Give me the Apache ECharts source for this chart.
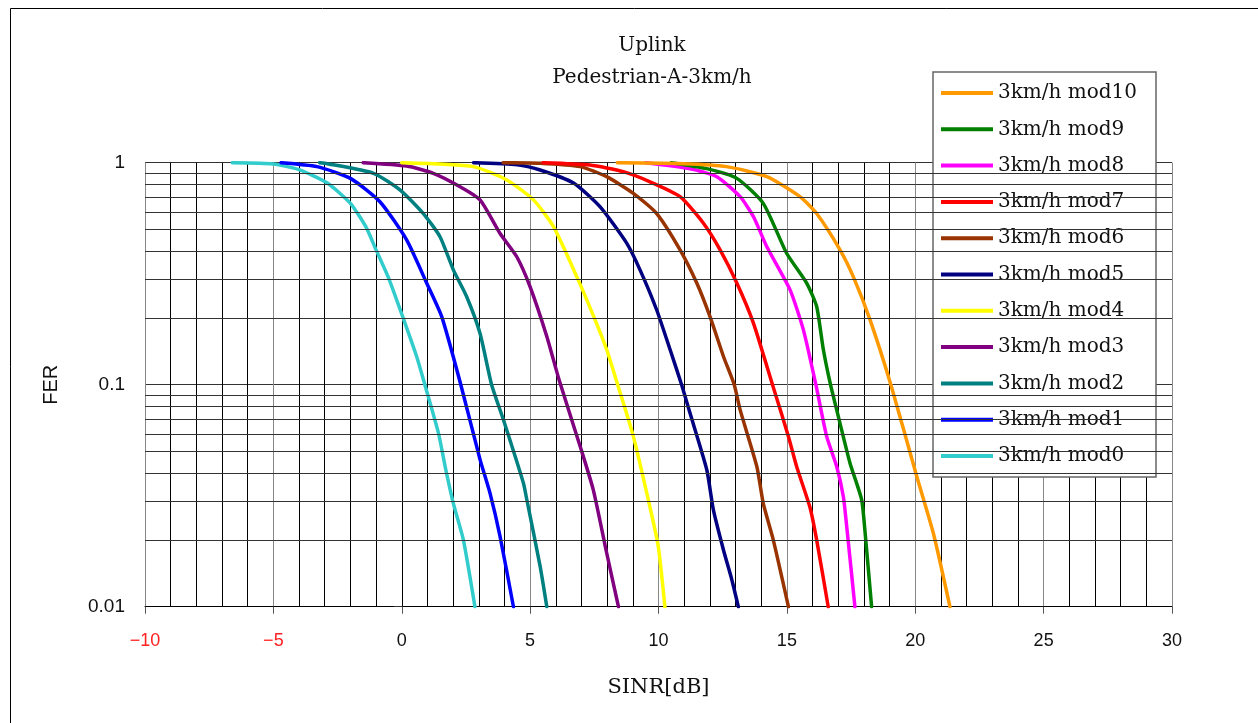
<!DOCTYPE html>
<html>
<head>
<meta charset="utf-8">
<script src="https://cdn.jsdelivr.net/npm/echarts@6/dist/echarts.min.js"></script>
<style>
  html, body { margin: 0; padding: 0; background: #fff; }
  #chart { width: 1258px; height: 723px; }
</style>
</head>
<body>
<div id="chart"></div>
<script>
// FER versus SINR curves, [SINR dB, FER]
const mod0 = [[-6.6,1],[-5.0,0.987],[-4.0,0.93],[-2.9,0.81],[-2.0,0.656],[-1.4,0.515],[-1.0,0.405],[-0.5,0.30],[0.06,0.199],[0.58,0.134],[0.9,0.1],[1.43,0.0605],[1.69,0.0428],[2.01,0.0292],[2.40,0.020],[2.85,0.01]];
const mod1 = [[-4.7,1],[-3.3,0.96],[-2.0,0.85],[-0.85,0.667],[0.19,0.449],[0.97,0.287],[1.56,0.202],[2.3,0.1],[3.05,0.046],[3.44,0.0324],[3.83,0.0207],[4.35,0.01]];
const mod2 = [[-3.2,1],[-2.9,0.99],[-1.1,0.896],[-0.06,0.753],[0.84,0.59],[1.49,0.464],[2.01,0.329],[2.53,0.249],[3.05,0.17],[3.5,0.1],[3.96,0.0695],[4.74,0.036],[4.87,0.0304],[5.39,0.0152],[5.65,0.01]];
const mod3 = [[-1.5,1],[0.19,0.966],[1.23,0.896],[2.27,0.78],[3.05,0.68],[3.83,0.48],[4.48,0.377],[5.0,0.276],[5.65,0.165],[6.13,0.105],[6.95,0.0527],[7.46,0.0336],[7.98,0.0175],[8.44,0.01]];
const mod4 = [[0.0,1],[2.79,0.96],[4.09,0.836],[5.13,0.68],[5.91,0.515],[6.82,0.306],[7.53,0.196],[7.98,0.144],[8.41,0.1],[9.02,0.0585],[9.67,0.028],[9.99,0.0187],[10.25,0.01]];
const mod5 = [[2.8,1],[4.5,0.98],[5.39,0.927],[6.69,0.81],[7.72,0.634],[8.76,0.434],[9.28,0.329],[9.93,0.217],[10.45,0.144],[10.9,0.1],[11.23,0.0743],[11.88,0.0414],[12.14,0.0272],[12.53,0.018],[12.85,0.0133],[13.11,0.01]];
const mod6 = [[3.95,1],[5.39,0.995],[6.95,0.96],[7.98,0.865],[9.02,0.728],[9.93,0.59],[10.84,0.405],[11.49,0.287],[12.01,0.202],[12.53,0.134],[12.95,0.1],[13.18,0.077],[13.83,0.0428],[14.08,0.0292],[14.47,0.020],[15.06,0.01]];
const mod7 = [[5.5,1],[7.33,0.976],[8.63,0.911],[9.67,0.82],[10.84,0.703],[11.75,0.534],[12.4,0.405],[13.05,0.287],[13.7,0.189],[14.44,0.1],[15.06,0.0585],[15.38,0.0428],[15.9,0.028],[16.16,0.020],[16.61,0.01]];
const mod8 = [[9.5,1],[11.23,0.94],[12.27,0.865],[13.18,0.703],[13.7,0.571],[14.22,0.418],[15.12,0.268],[15.64,0.177],[16.13,0.1],[16.55,0.0585],[16.94,0.0428],[17.2,0.0313],[17.33,0.023],[17.65,0.01]];
const mod9 = [[10.5,1],[11.88,0.94],[13.05,0.85],[14.08,0.656],[14.99,0.391],[15.77,0.287],[16.16,0.225],[16.42,0.144],[16.7,0.1],[17.07,0.067],[17.46,0.0443],[17.91,0.0304],[18.04,0.022],[18.3,0.01]];
const mod10 = [[8.4,1],[11.0,0.99],[12.65,0.96],[14.22,0.865],[15.51,0.703],[16.16,0.59],[17.07,0.405],[17.59,0.306],[18.24,0.196],[19.05,0.1],[20.06,0.0386],[20.71,0.0213],[21.35,0.01]];

const seriesNames = ['3km/h mod0','3km/h mod1','3km/h mod2','3km/h mod3','3km/h mod4','3km/h mod5','3km/h mod6','3km/h mod7','3km/h mod8','3km/h mod9','3km/h mod10'];
const seriesData = [mod0, mod1, mod2, mod3, mod4, mod5, mod6, mod7, mod8, mod9, mod10];
const seriesColors = ['#33CCCC','#0000FF','#008080','#800080','#FFFF00','#000080','#993300','#FF0000','#FF00FF','#008000','#FF9900'];

// minor horizontal grid values of the log FER axis
const ferMinor = [0.02,0.03,0.04,0.05,0.06,0.07,0.08,0.09,0.2,0.3,0.4,0.5,0.6,0.7,0.8,0.9];
const ferLabels = {'-2': '0.01', '-1': '0.1', '0': '1'};

const chart = echarts.init(document.getElementById('chart'), null, { renderer: 'canvas' });

const lines = seriesNames.map((name, i) => ({
  name: name,
  type: 'line',
  data: seriesData[i],
  showSymbol: false,
  smooth: 0.2,
  z: 3,
  lineStyle: { color: seriesColors[i], width: 3.5, cap: 'round', join: 'round' },
  itemStyle: { color: seriesColors[i] },
  emphasis: { disabled: true }
}));

lines.unshift({
  name: 'grid',
  type: 'line',
  data: [],
  z: 1,
  silent: true,
  markLine: {
    silent: true,
    symbol: 'none',
    animation: false,
    label: { show: false },
    lineStyle: { color: '#333', width: 1, type: 'solid' },
    emphasis: { disabled: true },
    data: ferMinor.map(v => ({ yAxis: v }))
  }
});

chart.setOption({
  animation: false,
  backgroundColor: '#fff',
  title: {
    text: 'Uplink\nPedestrian-A-3km/h',
    left: 647,
    top: 25,
    textAlign: 'center',
    textStyle: { fontFamily: 'DejaVu Serif', fontWeight: 'normal', fontSize: 20, lineHeight: 32, color: '#111' }
  },
  graphic: [{
    type: 'rect',
    shape: { x: 10.5, y: 8.5, width: 1270, height: 740 },
    style: { fill: null, stroke: '#000', lineWidth: 1 },
    silent: true
  }],
  legend: {
    orient: 'vertical',
    left: 933,
    top: 72,
    data: seriesNames.slice().reverse(),
    icon: 'rect',
    itemWidth: 52,
    itemHeight: 4,
    itemGap: 16.3,
    padding: [11, 8, 11, 8],
    backgroundColor: '#fff',
    borderColor: '#666',
    borderWidth: 1.5,
    selectedMode: false,
    textStyle: { fontFamily: 'DejaVu Serif', fontSize: 20, lineHeight: 20, width: 150, color: '#111' }
  },
  grid: { left: 145, right: 86, top: 162.7, bottom: 116.3, containLabel: false },
  xAxis: {
    type: 'value',
    min: -10,
    max: 30,
    interval: 5,
    name: 'SINR[dB]',
    nameLocation: 'middle',
    nameGap: 70,
    nameTextStyle: { fontFamily: 'DejaVu Serif', fontSize: 21, color: '#111' },
    axisLine: { show: true, onZero: false, lineStyle: { color: '#000', width: 1 } },
    axisTick: { show: true, length: 7, inside: false, lineStyle: { color: '#555' } },
    axisLabel: {
      margin: 25,
      fontFamily: 'Liberation Sans',
      fontSize: 18,
      color: '#111',
      formatter: v => v < 0 ? '{neg|\u2212' + Math.abs(v) + '}' : String(v),
      rich: { neg: { color: '#FF2020', fontFamily: 'Liberation Sans', fontSize: 18 } }
    },
    splitLine: { show: true, lineStyle: { color: '#888', width: 1 } },
    minorTick: { show: false, splitNumber: 5 },
    minorSplitLine: { show: true, lineStyle: { color: '#000', width: 1 } }
  },
  yAxis: {
    type: 'log',
    logBase: 10,
    min: 0.01,
    max: 1,
    name: 'FER',
    nameLocation: 'middle',
    nameGap: 84,
    nameTextStyle: { fontFamily: 'Liberation Sans', fontSize: 20, color: '#111' },
    axisLine: { show: true, lineStyle: { color: '#000', width: 1 } },
    axisTick: { show: true, length: 8, lineStyle: { color: '#333' } },
    axisLabel: {
      margin: 20,
      fontFamily: 'Liberation Sans',
      fontSize: 19,
      color: '#111',
      formatter: v => ferLabels[String(Math.round(Math.log10(v)))] || ''
    },
    splitLine: { show: true, lineStyle: { color: '#333', width: 1 } }
  },
  series: lines
});
</script>
</body>
</html>
